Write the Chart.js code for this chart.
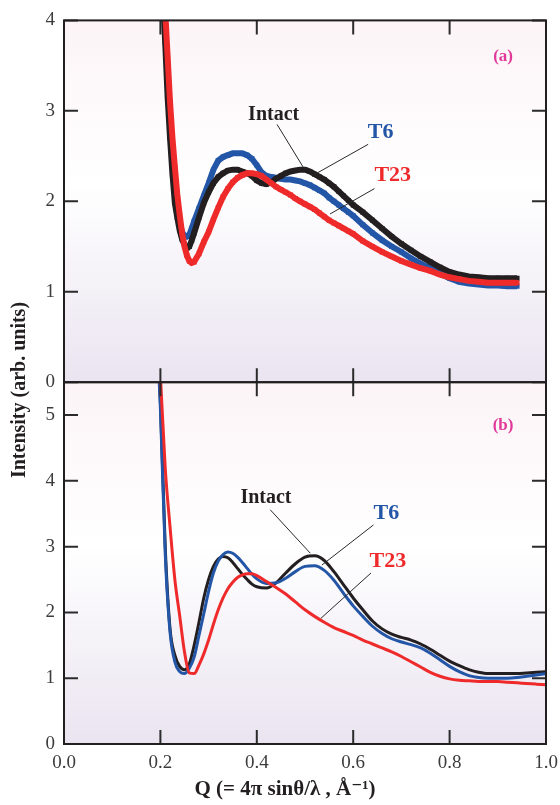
<!DOCTYPE html>
<html>
<head>
<meta charset="utf-8">
<script src="https://cdn.jsdelivr.net/npm/chart.js@4.4.1/dist/chart.umd.min.js"></script>
<style>
  html, body { margin: 0; padding: 0; background: #fff; }
</style>
</head>
<body>
<canvas id="chartSq" width="560" height="805"></canvas>
<script>
// panel (a): measured intensity
const qTop = [0.205, 0.21, 0.215, 0.22, 0.225, 0.23, 0.235, 0.24, 0.245, 0.25, 0.255, 0.26, 0.265, 0.27,
  0.28, 0.29, 0.30, 0.31, 0.32, 0.33, 0.34, 0.35, 0.36, 0.37, 0.38, 0.39, 0.40, 0.41, 0.42, 0.43, 0.44,
  0.45, 0.46, 0.47, 0.48, 0.49, 0.50, 0.51, 0.52, 0.53, 0.54, 0.55, 0.56, 0.57, 0.58, 0.59, 0.60,
  0.62, 0.64, 0.66, 0.68, 0.70, 0.72, 0.74, 0.76, 0.78, 0.80, 0.82, 0.84, 0.86, 0.88, 0.90, 0.92, 0.94];
const intactTop = [4.3, 3.75, 3.15, 2.7, 2.3, 1.98, 1.82, 1.68, 1.58, 1.52, 1.48, 1.50, 1.57, 1.65,
  1.82, 1.98, 2.10, 2.20, 2.27, 2.31, 2.34, 2.35, 2.35, 2.33, 2.31, 2.28, 2.23, 2.20, 2.19, 2.21, 2.25,
  2.28, 2.31, 2.33, 2.34, 2.35, 2.35, 2.33, 2.30, 2.27, 2.24, 2.20, 2.16, 2.11, 2.06, 2.01, 1.96,
  1.88, 1.79, 1.70, 1.61, 1.53, 1.46, 1.39, 1.33, 1.27, 1.22, 1.19, 1.17, 1.16, 1.15, 1.15, 1.15, 1.15];
const t6Top = [4.4, 3.95, 3.35, 2.85, 2.42, 2.1, 1.9, 1.75, 1.66, 1.62, 1.61, 1.63, 1.70, 1.78,
  1.92, 2.06, 2.20, 2.35, 2.45, 2.49, 2.51, 2.53, 2.53, 2.53, 2.51, 2.47, 2.40, 2.32, 2.28, 2.27, 2.26,
  2.25, 2.24, 2.24, 2.23, 2.22, 2.20, 2.18, 2.15, 2.12, 2.09, 2.04, 2.00, 1.96, 1.92, 1.88, 1.84,
  1.74, 1.65, 1.57, 1.50, 1.44, 1.37, 1.31, 1.26, 1.20, 1.15, 1.11, 1.09, 1.08, 1.07, 1.07, 1.06, 1.06];
const t23Top = [4.6, 4.1, 3.6, 3.1, 2.7, 2.38, 2.08, 1.85, 1.65, 1.50, 1.40, 1.34, 1.32, 1.33,
  1.42, 1.55, 1.66, 1.80, 1.93, 2.05, 2.14, 2.21, 2.26, 2.29, 2.31, 2.31, 2.30, 2.28, 2.24, 2.20, 2.16,
  2.13, 2.10, 2.07, 2.03, 2.00, 1.97, 1.94, 1.91, 1.87, 1.83, 1.79, 1.76, 1.73, 1.70, 1.67, 1.64,
  1.56, 1.50, 1.44, 1.39, 1.34, 1.30, 1.26, 1.23, 1.19, 1.16, 1.14, 1.12, 1.11, 1.10, 1.10, 1.10, 1.10];

// panel (b): smoothed curves
const qBottom = [0.195, 0.20, 0.21, 0.22, 0.23, 0.24, 0.25, 0.26, 0.27, 0.28, 0.29, 0.30, 0.31, 0.32,
  0.33, 0.34, 0.35, 0.36, 0.37, 0.38, 0.39, 0.40, 0.42, 0.44, 0.46, 0.48, 0.50, 0.52, 0.54, 0.56, 0.58,
  0.60, 0.62, 0.64, 0.66, 0.68, 0.70, 0.72, 0.74, 0.76, 0.78, 0.80, 0.82, 0.84, 0.86, 0.88, 0.90, 0.92,
  0.94, 0.96, 0.98, 1.00];
const intactBottom = [5.9, 5.2, 3.0, 1.75, 1.35, 1.18, 1.13, 1.22, 1.50, 1.85, 2.22, 2.50, 2.70, 2.81,
  2.85, 2.83, 2.76, 2.67, 2.58, 2.50, 2.43, 2.39, 2.37, 2.45, 2.60, 2.74, 2.84, 2.86, 2.79, 2.62, 2.42,
  2.22, 2.04, 1.87, 1.75, 1.67, 1.62, 1.58, 1.52, 1.44, 1.35, 1.26, 1.19, 1.13, 1.09, 1.07, 1.07, 1.07,
  1.07, 1.08, 1.09, 1.10];
const t6Bottom = [5.9, 5.1, 2.9, 1.7, 1.25, 1.10, 1.07, 1.15, 1.32, 1.65, 1.98, 2.32, 2.60, 2.78,
  2.88, 2.92, 2.90, 2.84, 2.76, 2.67, 2.58, 2.51, 2.44, 2.45, 2.52, 2.62, 2.70, 2.71, 2.64, 2.49, 2.29,
  2.10, 1.94, 1.79, 1.68, 1.60, 1.55, 1.51, 1.46, 1.38, 1.28, 1.18, 1.10, 1.04, 1.01, 1.00, 1.00, 1.00,
  1.01, 1.03, 1.05, 1.07];
const t23Bottom = [6.2, 5.6, 4.2, 3.3, 2.5, 1.95, 1.40, 1.08, 1.07, 1.20, 1.37, 1.58, 1.82, 2.04,
  2.22, 2.36, 2.46, 2.53, 2.57, 2.59, 2.59, 2.56, 2.47, 2.38, 2.28, 2.16, 2.04, 1.94, 1.85, 1.77, 1.71,
  1.65, 1.58, 1.52, 1.46, 1.40, 1.33, 1.25, 1.17, 1.09, 1.03, 0.99, 0.97, 0.96, 0.95, 0.95, 0.95, 0.94,
  0.93, 0.92, 0.91, 0.90];

const xTicks = [0, 0.2, 0.4, 0.6, 0.8, 1.0];
const xTickLabels = ["0.0", "0.2", "0.4", "0.6", "0.8", "1.0"];
const yTicksTop = [0, 1, 2, 3, 4];
const yTicksBottom = [0, 1, 2, 3, 4, 5];

const BLACK = "#231f20";
const BLUE = "#2356a7";
const RED = "#ee2a2b";
const PINK = "#e0399a";
const SERIF = "'Liberation Serif', 'DejaVu Serif', serif";

const toPoints = (qs, vals) => qs.map((q, i) => ({ x: q, y: vals[i] }));

// text labels with leader lines, placed in data units of each panel
const annotations = [
  { axis: "yTop", text: "Intact", color: BLACK, size: 20, q: 0.435, v: 2.96, line: [0.442, 2.85, 0.496, 2.38] },
  { axis: "yTop", text: "T6", color: BLUE, size: 22, q: 0.657, v: 2.76, line: [0.631, 2.63, 0.521, 2.30] },
  { axis: "yTop", text: "T23", color: RED, size: 22, q: 0.682, v: 2.29, line: [0.644, 2.14, 0.552, 1.86] },
  { axis: "yTop", text: "(a)", color: PINK, size: 17, q: 0.911, v: 3.6 },
  { axis: "yBottom", text: "Intact", color: BLACK, size: 20, q: 0.419, v: 3.74, line: [0.428, 3.56, 0.511, 2.90] },
  { axis: "yBottom", text: "T6", color: BLUE, size: 22, q: 0.669, v: 3.51, line: [0.642, 3.33, 0.535, 2.72] },
  { axis: "yBottom", text: "T23", color: RED, size: 22, q: 0.672, v: 2.78, line: [0.637, 2.60, 0.533, 1.91] },
  { axis: "yBottom", text: "(b)", color: PINK, size: 17, q: 0.911, v: 4.84 },
];

const panelIds = ["yTop", "yBottom"];

const panelPlugin = {
  id: "panelPlugin",
  beforeDraw(chart) {
    const { ctx, chartArea } = chart;
    panelIds.forEach((id) => {
      const s = chart.scales[id];
      const g = ctx.createLinearGradient(0, s.top, 0, s.bottom);
      g.addColorStop(0, "#fcf4f7");
      g.addColorStop(0.45, "#ffffff");
      g.addColorStop(1, "#eae4f0");
      ctx.fillStyle = g;
      ctx.fillRect(chartArea.left, s.top, chartArea.right - chartArea.left, s.bottom - s.top);
    });
  },
  beforeDatasetDraw(chart, args) {
    const s = args.meta.yScale;
    const { ctx, chartArea } = chart;
    ctx.save();
    ctx.beginPath();
    ctx.rect(chartArea.left, s.top, chartArea.right - chartArea.left, s.bottom - s.top);
    ctx.clip();
  },
  afterDatasetDraw(chart) {
    chart.ctx.restore();
  },
  afterDraw(chart) {
    const { ctx, chartArea } = chart;
    const xs = chart.scales.x;
    const L = chartArea.left;
    const R = chartArea.right;
    const tick = 14;

    // inward tick marks on every side of both panels
    ctx.save();
    ctx.strokeStyle = "#2b2b2b";
    ctx.lineWidth = 2;
    ctx.beginPath();
    panelIds.forEach((id) => {
      const s = chart.scales[id];
      const vals = id === "yTop" ? yTicksTop : yTicksBottom;
      vals.forEach((v) => {
        const y = s.getPixelForValue(v);
        ctx.moveTo(L, y);
        ctx.lineTo(L + tick, y);
        ctx.moveTo(R, y);
        ctx.lineTo(R - tick, y);
      });
      xTicks.forEach((v) => {
        const x = xs.getPixelForValue(v);
        ctx.moveTo(x, s.top);
        ctx.lineTo(x, s.top + tick);
        ctx.moveTo(x, s.bottom);
        ctx.lineTo(x, s.bottom - tick);
      });
    });
    ctx.stroke();
    ctx.restore();

    // panel frames
    ctx.save();
    ctx.strokeStyle = BLACK;
    ctx.lineWidth = 2;
    panelIds.forEach((id) => {
      const s = chart.scales[id];
      ctx.strokeRect(L, s.top, R - L, s.bottom - s.top);
    });
    ctx.restore();

    // labels and leader lines
    annotations.forEach((a) => {
      const ys = chart.scales[a.axis];
      ctx.save();
      if (a.line) {
        ctx.strokeStyle = "#2a2a2a";
        ctx.lineWidth = 1;
        ctx.beginPath();
        ctx.moveTo(xs.getPixelForValue(a.line[0]), ys.getPixelForValue(a.line[1]));
        ctx.lineTo(xs.getPixelForValue(a.line[2]), ys.getPixelForValue(a.line[3]));
        ctx.stroke();
      }
      ctx.fillStyle = a.color;
      ctx.font = "bold " + a.size + "px " + SERIF;
      ctx.textAlign = "center";
      ctx.textBaseline = "middle";
      ctx.fillText(a.text, xs.getPixelForValue(a.q), ys.getPixelForValue(a.v));
      ctx.restore();
    });

    // axis titles
    ctx.save();
    ctx.fillStyle = BLACK;
    ctx.textAlign = "center";
    ctx.textBaseline = "middle";
    ctx.font = "bold 21px " + SERIF;
    ctx.fillText("Q (= 4\u03c0 sin\u03b8/\u03bb , \u00c5\u207b\u00b9)", 285, 790);
    ctx.font = "bold 20px " + SERIF;
    ctx.translate(20, 390);
    ctx.rotate(-Math.PI / 2);
    ctx.fillText("Intensity (arb. units)", 0, 0);
    ctx.restore();
  },
};

const tickFont = { family: SERIF, size: 19 };
const tickColor = "#3c3c3c";

const yScale = (ticksList, max) => ({
  type: "linear",
  position: "left",
  stack: "panels",
  stackWeight: 1,
  min: 0,
  max: max,
  grid: { display: false, drawTicks: false },
  border: { display: false },
  afterBuildTicks: (s) => { s.ticks = ticksList.map((v) => ({ value: v })); },
  afterFit: (s) => { s.width = 64; },
  ticks: { padding: 9, font: tickFont, color: tickColor, callback: (v) => String(v) },
});

const topSeries = (label, vals, color, order) => ({
  label: label,
  data: toPoints(qTop, vals),
  yAxisID: "yTop",
  borderColor: color,
  backgroundColor: color,
  borderWidth: 6,
  pointStyle: "rect",
  pointRadius: 3.5,
  pointBorderWidth: 0,
  pointBackgroundColor: color,
  order: order,
});

const bottomSeries = (label, vals, color, order) => ({
  label: label,
  data: toPoints(qBottom, vals),
  yAxisID: "yBottom",
  borderColor: color,
  borderWidth: 3,
  pointRadius: 0,
  cubicInterpolationMode: "monotone",
  order: order,
});

new Chart(document.querySelector("#chartSq"), {
  type: "line",
  data: {
    datasets: [
      topSeries("T6", t6Top, BLUE, 5),
      topSeries("Intact", intactTop, BLACK, 4),
      topSeries("T23", t23Top, RED, 3),
      bottomSeries("Intact", intactBottom, BLACK, 2),
      bottomSeries("T6", t6Bottom, BLUE, 1),
      bottomSeries("T23", t23Bottom, RED, 0),
    ],
  },
  options: {
    responsive: false,
    animation: false,
    layout: { padding: { top: 19, right: 14, left: 0, bottom: 0 } },
    plugins: { legend: { display: false }, tooltip: { enabled: false } },
    scales: {
      x: {
        type: "linear",
        min: 0,
        max: 1,
        grid: { display: false, drawTicks: true, tickLength: 8, tickColor: "rgba(0,0,0,0)" },
        border: { display: false },
        afterBuildTicks: (s) => { s.ticks = xTicks.map((v) => ({ value: v })); },
        afterFit: (s) => { s.height = 61; },
        ticks: { padding: 0, font: tickFont, color: tickColor, callback: (v, i) => xTickLabels[i] },
      },
      yBottom: yScale(yTicksBottom, 5.5),
      yTop: yScale(yTicksTop, 4),
    },
  },
  plugins: [panelPlugin],
});
</script>
</body>
</html>
